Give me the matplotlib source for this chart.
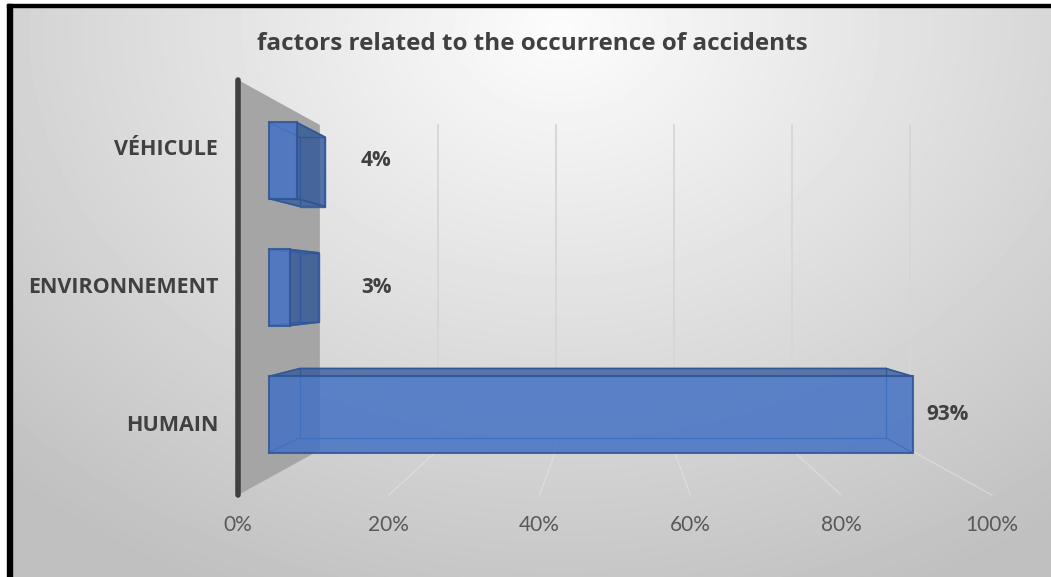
import numpy as np
import matplotlib
matplotlib.use("Agg")
import matplotlib.pyplot as plt
from matplotlib.patches import Polygon, Rectangle

# données du graphique
categories = ["HUMAIN", "ENVIRONNEMENT", "VÉHICULE"]
valeurs = [93, 3, 4]
ticks = [0, 20, 40, 60, 80, 100]
titre = "factors related to the occurrence of accidents"

plt.rcParams['font.family'] = ['Lato', 'DejaVu Sans']

W, H = 1051, 577
fig = plt.figure(figsize=(W / 100, H / 100), dpi=100)

# fond en dégradé radial
fond = fig.add_axes([0, 0, 1, 1])
yy, xx = np.mgrid[0:H, 0:W]
r = np.sqrt(((xx - 560) / 1.0) ** 2 + ((yy - 30) * 1.3) ** 2) / 800
r = np.clip(r, 0, 1)
img = 252 - (252 - 192) * r
fond.imshow(img, cmap="gray", vmin=0, vmax=255, extent=[0, W, H, 0], aspect="auto")
fond.set_xlim(0, W)
fond.set_ylim(H, 0)
fond.axis("off")
# marges blanches + bordure noire
fond.add_patch(Rectangle((0, 0), 7, H, color="white"))
fond.add_patch(Rectangle((0, 0), W, 4, color="white"))
fond.add_patch(Rectangle((7, 4), 5, H, color="black"))
fond.add_patch(Rectangle((7, 4), W, 3, color="black"))

# axe principal : plan avant des barres
ax = fig.add_axes([269 / W, (H - 478) / H, 692 / W, 381 / H])
ax.set_xlim(0, 100)
ax.set_ylim(-0.5, 2.5)
ax.patch.set_alpha(0)
ax.axis("off")

# perspective : point de fuite et profondeurs
VPX, VPY = 50, 1.0
K_AVANT, K_BARRE, K_FOND = -0.089, 0.089, 0.147


def P(x, y, k):
    return (x + k * (VPX - x), y + k * (VPY - y))


# mur gauche gris
mur = Polygon([P(0, -0.5, K_AVANT), P(0, 2.5, K_AVANT), P(0, 2.5, K_FOND), P(0, -0.5, K_FOND)],
              closed=True, facecolor="#a5a5a5", edgecolor="none", clip_on=False, zorder=1)
ax.add_patch(mur)
a, b = P(0, -0.5, K_AVANT), P(0, 2.5, K_AVANT)
ax.plot([a[0], b[0]], [a[1], b[1]], color="#404040", lw=4, solid_capstyle="round",
        clip_on=False, zorder=2)

# quadrillage du fond et du sol
for t in ticks[1:]:
    a, b = P(t, -0.5, K_FOND), P(t, 2.5, K_FOND)
    ax.plot([a[0], b[0]], [a[1], b[1]], color="#d6d6d6", lw=1.3, clip_on=False, zorder=1)
    c = P(t, -0.5, K_AVANT)
    ax.plot([a[0], c[0]], [a[1], c[1]], color="#e6e6e6", lw=0.9, alpha=0.6,
            clip_on=False, zorder=1)

# étiquettes de l'axe des x
for t in ticks:
    ax.annotate(f"{t}%", P(t, -0.5, K_AVANT), xytext=(0, -21.5), textcoords="offset points",
                ha="center", va="center", fontsize=15, color="#595959", annotation_clip=False)

# étiquettes des catégories
for i, cat in enumerate(categories):
    ax.annotate(cat, P(0, i, K_AVANT), xytext=(-14.5, 0), textcoords="offset points",
                ha="right", va="center", fontsize=15.5, fontweight="bold", color="#404040",
                family=["Open Sans", "DejaVu Sans"], annotation_clip=False)

# barres 3D
h = 0.3
bleu = "#4472C4"
bord = "#2F5597"
for i, v in enumerate(valeurs):
    y0, y1 = i - h, i + h
    # arêtes arrière (vues à travers la transparence)
    dos = [P(0, y0, K_BARRE), P(v, y0, K_BARRE), P(v, y1, K_BARRE), P(0, y1, K_BARRE)]
    ax.add_patch(Polygon(dos, closed=True, facecolor="none", edgecolor="#3d66b3", lw=1,
                         clip_on=False, zorder=3))
    for (x, y) in [(0, y0), (v, y0), (v, y1), (0, y1)]:
        p = P(x, y, K_BARRE)
        ax.plot([x, p[0]], [y, p[1]], color="#3d66b3", lw=1, clip_on=False, zorder=3)
    # faces visibles
    if v < VPX:
        ax.add_patch(Polygon([P(v, y0, 0), P(v, y1, 0), P(v, y1, K_BARRE), P(v, y0, K_BARRE)],
                             closed=True, facecolor=bord, alpha=0.8, edgecolor=bord, lw=1.2,
                             clip_on=False, zorder=4))
    if y1 < VPY:
        ax.add_patch(Polygon([P(0, y1, 0), P(v, y1, 0), P(v, y1, K_BARRE), P(0, y1, K_BARRE)],
                             closed=True, facecolor=bord, alpha=0.75, edgecolor=bord, lw=1.2,
                             clip_on=False, zorder=4))
    if y0 > VPY:
        ax.add_patch(Polygon([P(0, y0, 0), P(v, y0, 0), P(v, y0, K_BARRE), P(0, y0, K_BARRE)],
                             closed=True, facecolor=bord, alpha=0.75, edgecolor=bord, lw=1.2,
                             clip_on=False, zorder=4))

ax.barh(range(len(valeurs)), valeurs, height=2 * h, left=0, color=bleu, alpha=0.85,
        edgecolor=bord, linewidth=1.5, zorder=5, clip_on=False)

# étiquettes de données
for i, v in enumerate(valeurs):
    ax.annotate(f"{v}%", (max(v, 10.5) + 5, i), ha="center", va="center", fontsize=15,
                fontweight="bold", color="#404040", family=["Open Sans", "DejaVu Sans"],
                annotation_clip=False, zorder=6)

fig.text(532 / W, 1 - 44 / H, titre, ha="center", va="center", fontsize=17.5,
         fontweight="bold", color="#404040", family=["Open Sans", "DejaVu Sans"])

fig.savefig("out.png", dpi=100)
